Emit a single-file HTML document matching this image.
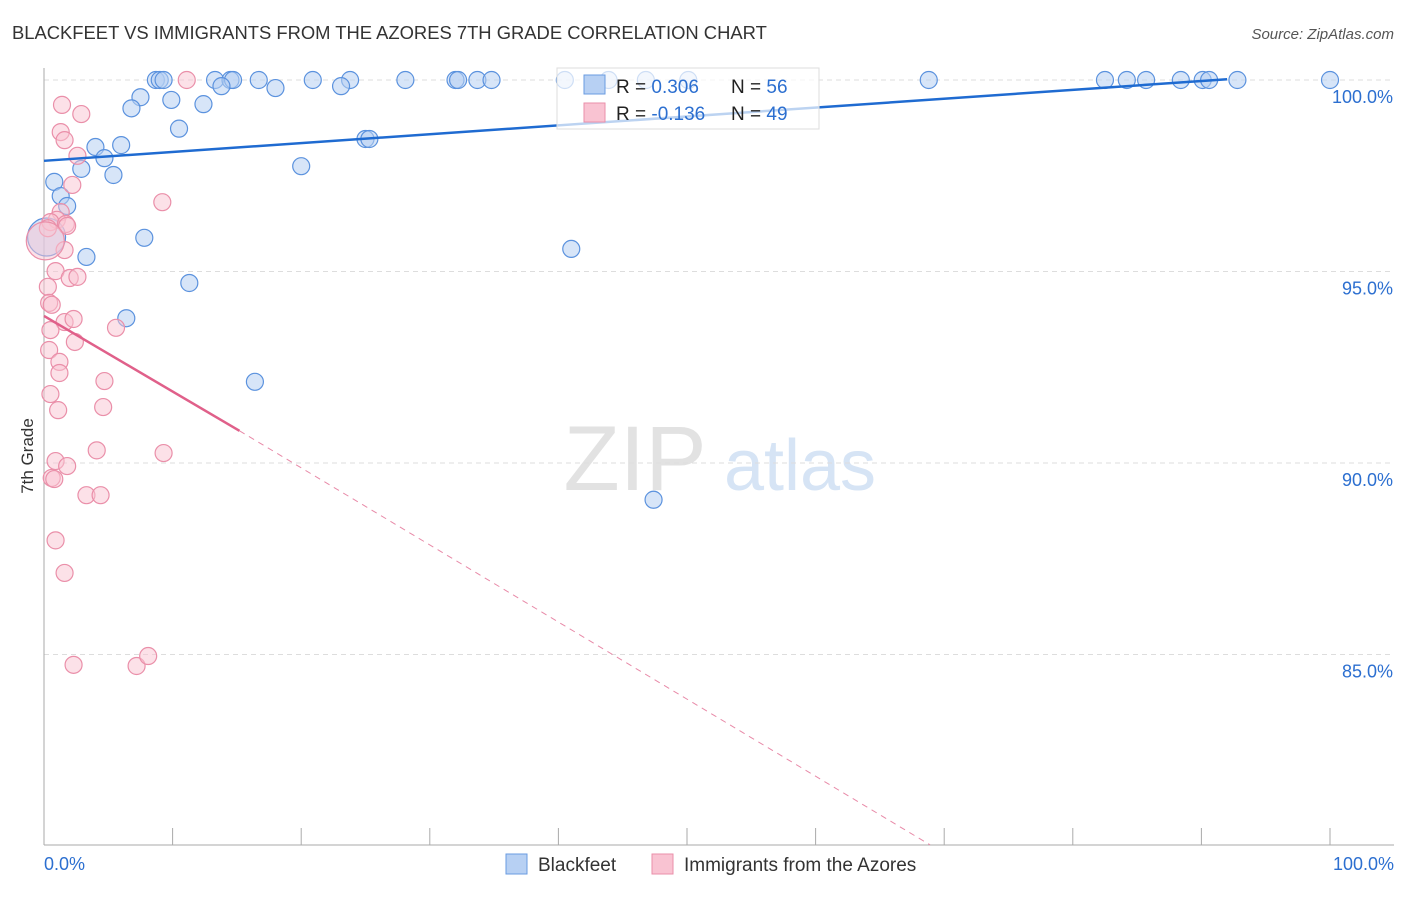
<!DOCTYPE html>
<html><head><meta charset="utf-8"><style>
body{margin:0;background:#fff;font-family:"Liberation Sans",sans-serif}
svg text{font-family:"Liberation Sans",sans-serif}
</style></head><body>
<svg id="chart" width="1406" height="892" xmlns="http://www.w3.org/2000/svg">
<text x="12" y="39" font-size="18.4" fill="#333">BLACKFEET VS IMMIGRANTS FROM THE AZORES 7TH GRADE CORRELATION CHART</text>
<text x="1394" y="39" font-size="15" fill="#555" text-anchor="end" font-style="italic">Source: ZipAtlas.com</text>
<text transform="translate(33,456) rotate(-90)" font-size="17" fill="#333" text-anchor="middle">7th Grade</text>
<g>
<text x="635" y="490" font-size="92" fill="#e2e2e2" text-anchor="middle" font-family="Liberation Serif,serif">ZIP</text>
<text x="800" y="490" font-size="72" fill="#d6e4f5" text-anchor="middle">atlas</text>
</g>
<g id="grid"></g><g id="axes"></g><g id="pts"></g><g id="trends"></g>
<g>
<rect x="557" y="68" width="262" height="61" fill="#fff" fill-opacity="0.7" stroke="#ddd"/>
<rect x="584" y="75" width="21" height="19" fill="#b7d0f3" stroke="#6a9be0"/>
<rect x="584" y="103" width="21" height="19" fill="#f9c3d2" stroke="#ea8fa9"/>
<text x="616" y="93" font-size="19" fill="#222">R = <tspan fill="#2c6fd0">0.306</tspan><tspan x="731">N = </tspan><tspan fill="#2c6fd0">56</tspan></text>
<text x="616" y="120" font-size="19" fill="#222">R = <tspan fill="#2c6fd0">-0.136</tspan><tspan x="731">N = </tspan><tspan fill="#2c6fd0">49</tspan></text>
</g>
<g>
<rect x="506" y="854" width="21" height="20" fill="#b7d0f3" stroke="#6a9be0"/>
<text x="538" y="871" font-size="19" fill="#333">Blackfeet</text>
<rect x="652" y="854" width="21" height="20" fill="#f9c3d2" stroke="#ea8fa9"/>
<text x="684" y="871" font-size="19" fill="#333">Immigrants from the Azores</text>
</g>
</svg>
<script>
const yTicks=[100,95,90,85];
const yTickLabels=["100.0%","95.0%","90.0%","85.0%"];
const xTickLabels=["0.0%","100.0%"];
const blueX=[8.7,9,9.3,13.3,14.5,14.7,16.7,20.9,23.8,28.1,32,32.2,33.7,34.8,40.5,43.9,46.8,50.1,68.8,82.5,84.2,85.7,88.4,90.1,90.6,92.8,100,7.5,9.9,6.8,12.4,13.8,18,23.1,10.5,25,25.3,4,6,4.7,2.9,5.4,20,0.8,1.3,1.8,7.8,0.2,3.3,41,11.3,6.4,16.4,47.4];
const blueY=[100,100,100,100,100,100,100,100,100,100,100,100,100,100,100,100,100,100,100,100,100,100,100,100,100,100,100,99.55,99.48,99.26,99.37,99.84,99.79,99.84,98.73,98.46,98.46,98.25,98.3,97.96,97.68,97.52,97.75,97.34,96.97,96.71,95.88,95.9,95.38,95.59,94.7,93.78,92.12,89.04];
const pinkX=[11.1,1.4,2.9,1.3,1.6,2.6,2.2,1.3,1,0.5,1.7,0.3,1.8,9.2,1.6,0.9,2,2.6,0.3,0.4,0.6,1.6,2.3,5.6,0.5,0.4,2.4,1.2,1.2,4.7,0.5,1.1,4.6,4.1,9.3,0.9,1.8,0.6,0.8,3.3,4.4,0.9,1.6,2.3,7.2,8.1,0.1];
const pinkY=[100,99.35,99.11,98.64,98.43,98.02,97.26,96.55,96.35,96.29,96.24,96.13,96.19,96.81,95.56,95.01,94.83,94.86,94.6,94.18,94.13,93.68,93.76,93.53,93.47,92.95,93.16,92.64,92.35,92.14,91.8,91.38,91.46,90.33,90.26,90.05,89.92,89.61,89.58,89.16,89.16,87.98,87.13,84.73,84.7,84.96,95.8];
const blueTrend=[[0,97.89],[92,100.02]];
const pinkSolid=[[0,93.84],[15.2,90.84]];
const pinkDash=[[15.2,90.84],[68.9,80.03]];
const NS="http://www.w3.org/2000/svg";
const X=v=>44+v*12.86, Y=v=>80+(100-v)*38.3;
function mk(tag,attrs,parent){const e=document.createElementNS(NS,tag);for(const k in attrs)e.setAttribute(k,attrs[k]);document.getElementById(parent).appendChild(e);return e;}
yTicks.forEach((t,i)=>{
 const l=mk('line',{x1:44,x2:1394,y1:Y(t),y2:Y(t),stroke:'#ddd','stroke-dasharray':'5,4'},'grid');
 
 
 const tx=mk('text',{x:1393,y:Y(t)+23,'font-size':18,fill:'#2c6fd0','text-anchor':'end'},'grid');tx.textContent=yTickLabels[i];
 
 
});
const ax=mk('line',{x1:44,x2:44,y1:68,y2:845,stroke:'#aaa'},'axes');


const bx=mk('line',{x1:44,x2:1394,y1:845,y2:845,stroke:'#aaa'},'axes');


for(let i=0;i<=10;i++){const t=mk('line',{x1:X(i*10),x2:X(i*10),y1:828,y2:845,stroke:'#aaa'},'axes');
 
 }
const xl0=mk('text',{x:44,y:870,'font-size':18,fill:'#2c6fd0'},'axes');xl0.textContent=xTickLabels[0];


const xl1=mk('text',{x:1394,y:870,'font-size':18,fill:'#2c6fd0','text-anchor':'end'},'axes');xl1.textContent=xTickLabels[1];


blueX.forEach((v,i)=>{const c=mk('circle',{cx:X(v),cy:Y(blueY[i]),r:i==47?19:8.5,fill:'#b7d0f3','fill-opacity':0.55,stroke:'#5b92de','stroke-width':1.2},'pts');
 
 });
pinkX.forEach((v,i)=>{const c=mk('circle',{cx:X(v),cy:Y(pinkY[i]),r:i==pinkX.length-1?19:8.5,fill:'#f9c3d2','fill-opacity':0.5,stroke:'#ea8fa9','stroke-width':1.2},'pts');
 
 });
const bt=mk('line',{x1:X(blueTrend[0][0]),y1:Y(blueTrend[0][1]),x2:X(blueTrend[1][0]),y2:Y(blueTrend[1][1]),stroke:'#1f6bd1','stroke-width':2.5},'trends');


const ps=mk('line',{x1:X(pinkSolid[0][0]),y1:Y(pinkSolid[0][1]),x2:X(pinkSolid[1][0]),y2:Y(pinkSolid[1][1]),stroke:'#e0608a','stroke-width':2.5},'trends');


const pd=mk('line',{x1:X(pinkDash[0][0]),y1:Y(pinkDash[0][1]),x2:X(pinkDash[1][0]),y2:Y(pinkDash[1][1]),stroke:'#e88aa8','stroke-width':1,'stroke-dasharray':'6,5'},'trends');


</script>
</body></html>
